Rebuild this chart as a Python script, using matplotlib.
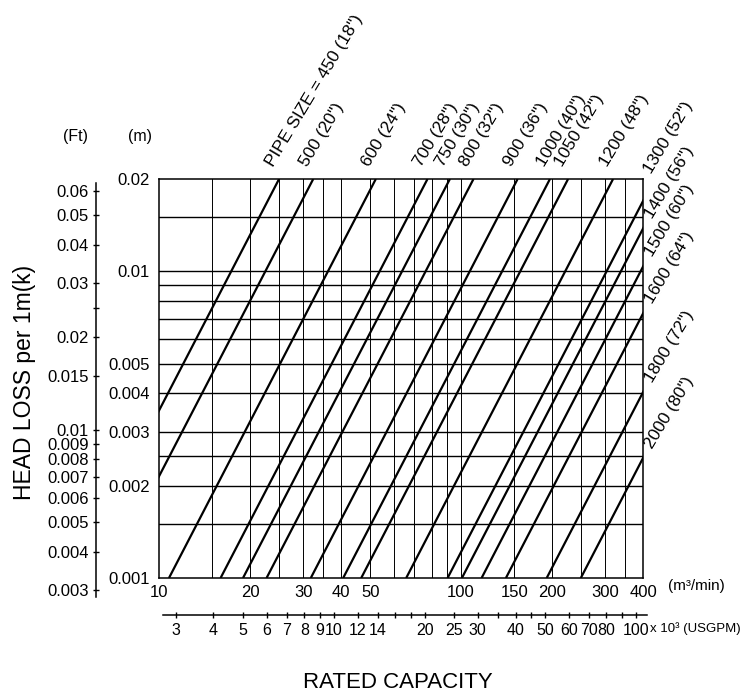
#!/usr/bin/env python3
import math

import matplotlib

matplotlib.use("Agg")
import matplotlib.pyplot as plt
from matplotlib.ticker import FixedLocator, NullFormatter, FixedFormatter


FIG_W, FIG_H, DPI = 740, 696, 100

# pipe sizes: nominal mm and inch
PIPE_MM = [450, 500, 600, 700, 750, 800, 900, 1000, 1050, 1200, 1300, 1400, 1500, 1600, 1800, 2000]
PIPE_IN = [18, 20, 24, 28, 30, 32, 36, 40, 42, 48, 52, 56, 60, 64, 72, 80]
# flow (m3/min) where each line meets 0.02 m and 0.001 m head loss (extended past the frame)
Q_AT_002 = [24.97, 32.4, 52.2, 77.4, 91.8, 109.9, 153.8, 196.8, 226.0, 318.4,
            436.5, 486.7, 565.6, 680.8, 929.0, 1205.0]
Q_AT_0001 = [5.16, 6.69, 10.79, 15.99, 18.97, 22.7, 31.8, 40.7, 46.7, 65.8,
             90.2, 100.6, 116.9, 140.7, 192.0, 249.0]

FLOW_LIMITS = (10, 400)
HEAD_LIMITS = (0.001, 0.02)

FLOW_TICKS = [10, 20, 30, 40, 50, 100, 150, 200, 300, 400]
FLOW_GRID = [15, 20, 25, 30, 35, 40, 50, 60, 70, 80, 90, 100, 150, 200, 250, 300, 350]
HEAD_TICKS = [0.001, 0.002, 0.003, 0.004, 0.005, 0.01, 0.02]
HEAD_TICK_LABELS = ["0.001", "0.002", "0.003", "0.004", "0.005", "0.01", "0.02"]
HEAD_GRID = [0.0015, 0.002, 0.0025, 0.003, 0.004, 0.005, 0.006, 0.007, 0.008, 0.009, 0.01, 0.015]

FT_TICKS = [0.003, 0.004, 0.005, 0.006, 0.007, 0.008, 0.009, 0.01, 0.015, 0.02, 0.03, 0.04, 0.05, 0.06]
FT_TICK_LABELS = ["0.003", "0.004", "0.005", "0.006", "0.007", "0.008", "0.009", "0.01",
                  "0.015", "0.02", "0.03", "0.04", "0.05", "0.06"]
FT_MINOR = [0.025]
GPM_TICKS = [3, 4, 5, 6, 7, 8, 9, 10, 12, 14, 20, 25, 30, 40, 50, 60, 70, 80, 100]
GPM_MINOR = [16, 18, 35, 45, 90]

FT_PER_M = 3.281
KGPM_PER_M3MIN = 0.26417

# frame of the chart in pixels: left, top, right, bottom
BOX = (159, 179, 643, 578)
FT_AXIS = (96, 183, 597)
GPM_AXIS = (615, 163, 647)


def rect(left, top, right, bottom):
    return [left / FIG_W, 1 - bottom / FIG_H, (right - left) / FIG_W, (bottom - top) / FIG_H]


def px(v):
    return v * 72.0 / DPI


def main() -> None:
    plt.rcParams["font.family"] = ["Liberation Sans", "DejaVu Sans"]
    fig = plt.figure(figsize=(FIG_W / DPI, FIG_H / DPI), dpi=DPI)

    left, top, right, bottom = BOX
    ax = fig.add_axes(rect(*BOX))
    ax.set_xscale("log")
    ax.set_yscale("log")
    ax.set_xlim(*FLOW_LIMITS)
    ax.set_ylim(*HEAD_LIMITS)

    for q in FLOW_GRID:
        ax.axvline(q, color="black", lw=0.7, zorder=1)
    for h in HEAD_GRID:
        ax.axhline(h, color="black", lw=1.0, zorder=1)
    for s in ax.spines.values():
        s.set_linewidth(1.1)

    for q_hi, q_lo in zip(Q_AT_002, Q_AT_0001):
        ax.plot([q_lo, q_hi], [HEAD_LIMITS[0], HEAD_LIMITS[1]], color="black", lw=1.6,
                solid_capstyle="butt", zorder=3)

    ax.xaxis.set_major_locator(FixedLocator(FLOW_TICKS))
    ax.xaxis.set_major_formatter(FixedFormatter([str(t) for t in FLOW_TICKS]))
    ax.xaxis.set_minor_locator(FixedLocator([]))
    ax.yaxis.set_major_locator(FixedLocator(HEAD_TICKS))
    ax.yaxis.set_major_formatter(FixedFormatter(HEAD_TICK_LABELS))
    ax.yaxis.set_minor_locator(FixedLocator([]))
    ax.tick_params(axis="x", length=0, pad=px(7), labelsize=12)
    ax.tick_params(axis="y", length=0, pad=px(9), labelsize=12)

    # pipe size labels
    for mm, inch, q_hi, q_lo in zip(PIPE_MM, PIPE_IN, Q_AT_002, Q_AT_0001):
        text = f'{mm} ({inch}")'
        if mm == PIPE_MM[0]:
            text = "PIPE SIZE = " + text
        if q_hi <= FLOW_LIMITS[1]:
            xy = (q_hi, HEAD_LIMITS[1])
            offset = (px(-6), px(12))
        else:
            frac = math.log(FLOW_LIMITS[1] / q_lo) / math.log(q_hi / q_lo)
            h_edge = HEAD_LIMITS[0] * (HEAD_LIMITS[1] / HEAD_LIMITS[0]) ** frac
            if h_edge > 0.016:
                xy = (FLOW_LIMITS[1], HEAD_LIMITS[1])
                offset = (px(8), px(5))
            else:
                xy = (FLOW_LIMITS[1], h_edge)
                offset = (px(9), px(9))
        ax.annotate(text, xy=xy, xytext=offset, textcoords="offset points",
                    rotation=59, rotation_mode="anchor", ha="left", va="baseline",
                    fontsize=12.5, annotation_clip=False)

    # Ft scale on the left
    ppd_y = (bottom - top) / math.log10(HEAD_LIMITS[1] / HEAD_LIMITS[0])
    x_ft, ft_top, ft_bot = FT_AXIS
    ref = math.log10(HEAD_LIMITS[1] * FT_PER_M)
    ax_ft = fig.add_axes(rect(x_ft, ft_top, x_ft + 1, ft_bot))
    ax_ft.set_yscale("log")
    ax_ft.set_ylim(10 ** (ref - (ft_bot - top) / ppd_y), 10 ** (ref - (ft_top - top) / ppd_y))
    ax_ft.patch.set_visible(False)
    for name in ("right", "top", "bottom"):
        ax_ft.spines[name].set_visible(False)
    ax_ft.spines["left"].set_linewidth(1.1)
    ax_ft.set_xticks([])
    ax_ft.yaxis.set_major_locator(FixedLocator(FT_TICKS))
    ax_ft.yaxis.set_major_formatter(FixedFormatter(FT_TICK_LABELS))
    ax_ft.yaxis.set_minor_locator(FixedLocator(FT_MINOR))
    ax_ft.yaxis.set_minor_formatter(NullFormatter())
    ax_ft.tick_params(axis="y", which="both", direction="inout", length=5, width=1.0,
                      pad=px(4), labelsize=12)

    # USGPM scale under the chart
    ppd_x = (right - left) / math.log10(FLOW_LIMITS[1] / FLOW_LIMITS[0])
    y_gpm, gpm_left, gpm_right = GPM_AXIS
    ref_x = math.log10(FLOW_LIMITS[0] * KGPM_PER_M3MIN)
    ax_gpm = fig.add_axes(rect(gpm_left, y_gpm - 1, gpm_right, y_gpm))
    ax_gpm.set_xscale("log")
    ax_gpm.set_xlim(10 ** (ref_x + (gpm_left - left) / ppd_x), 10 ** (ref_x + (gpm_right - left) / ppd_x))
    ax_gpm.patch.set_visible(False)
    for name in ("left", "right", "top"):
        ax_gpm.spines[name].set_visible(False)
    ax_gpm.spines["bottom"].set_linewidth(1.1)
    ax_gpm.set_yticks([])
    ax_gpm.xaxis.set_major_locator(FixedLocator(GPM_TICKS))
    ax_gpm.xaxis.set_major_formatter(FixedFormatter([str(t) for t in GPM_TICKS]))
    ax_gpm.xaxis.set_minor_locator(FixedLocator(GPM_MINOR))
    ax_gpm.xaxis.set_minor_formatter(NullFormatter())
    ax_gpm.tick_params(axis="x", which="both", direction="inout", length=5, width=1.0,
                       pad=px(5), labelsize=11.5)

    fig.text(75 / FIG_W, 1 - 137 / FIG_H, "(Ft)", ha="center", va="center", fontsize=11.5)
    fig.text(140 / FIG_W, 1 - 137 / FIG_H, "(m)", ha="center", va="center", fontsize=11.5)
    fig.text(25 / FIG_W, 1 - 382 / FIG_H, "HEAD LOSS per 1m(k)", rotation=90,
             ha="center", va="center", fontsize=16.5)
    fig.text(398 / FIG_W, 1 - 683 / FIG_H, "RATED CAPACITY", ha="center", va="center", fontsize=16)
    fig.text(668 / FIG_W, 1 - 586 / FIG_H, "(m³/min)", ha="left", va="center", fontsize=11)
    fig.text(650 / FIG_W, 1 - 629 / FIG_H, "x 10³ (USGPM)", ha="left", va="center", fontsize=9.5)

    fig.savefig("out.png", dpi=DPI)
    plt.close(fig)


if __name__ == "__main__":
    main()
